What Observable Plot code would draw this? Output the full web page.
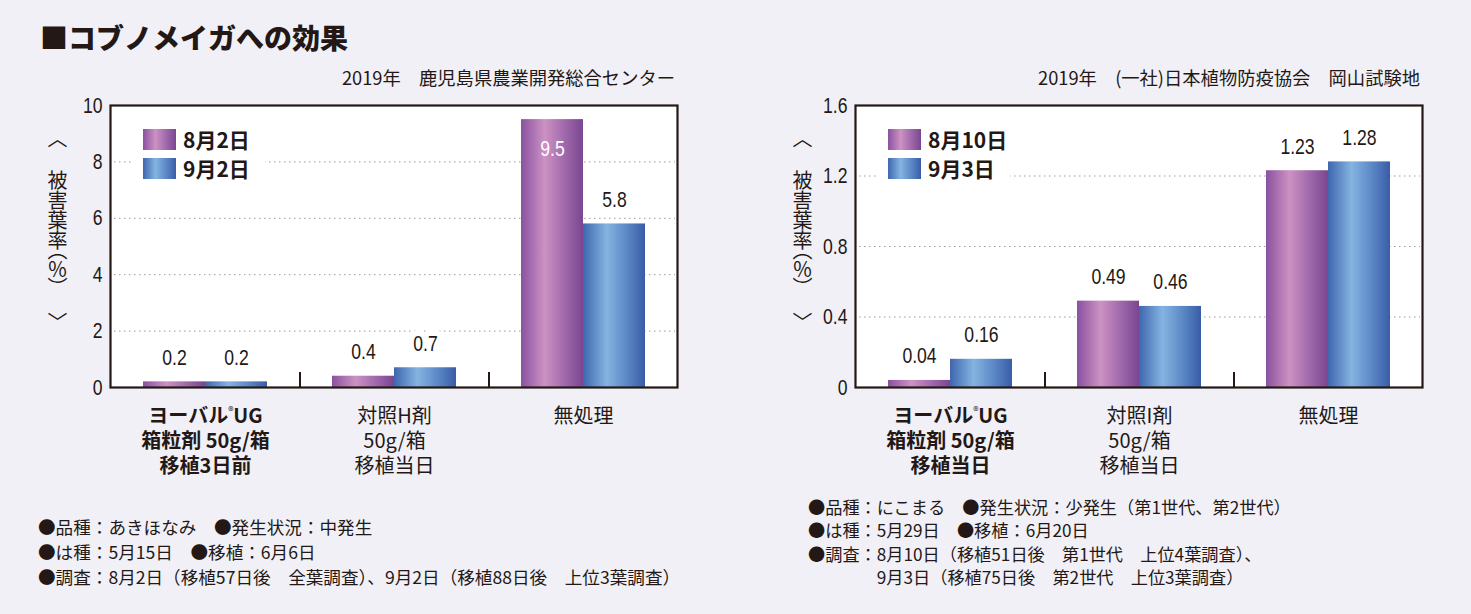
<!DOCTYPE html>
<html><head><meta charset="utf-8">
<script src="https://cdn.jsdelivr.net/npm/d3@7"></script>
<script src="https://cdn.jsdelivr.net/npm/@observablehq/plot@0.6"></script>
<style>
html,body{margin:0;padding:0;background:#f1f0f7;}
#root{position:relative;width:1471px;height:614px;background:#f1f0f7;font-family:"Noto Sans CJK JP",sans-serif;color:#231815;overflow:hidden;}
.abs{position:absolute;white-space:pre;}
.title{left:40px;top:23px;font-size:28px;line-height:28px;font-weight:900;}
.sub{top:66px;font-size:18.3px;line-height:22px;text-align:right;}
.legend{position:absolute;background:#fff;padding:0;}
.lg-row{position:absolute;display:flex;align-items:center;font-size:21px;font-weight:700;line-height:21px;white-space:nowrap;}
.sw{width:33px;height:21px;margin-right:7px;}
.ylab{position:absolute;writing-mode:vertical-rl;font-size:20px;line-height:24px;white-space:nowrap;}
.ylab .v{font-feature-settings:"vpal";}
.ylab .t{margin-inline:22px 0;}
.ylab .e{margin-inline:0 24px;}
.plot{position:absolute;top:0;}
</style></head><body><div id="root"></div>
<script>
// ---------------- data ----------------
const titleText = "■コブノメイガへの効果";

const leftSource = "2019年　鹿児島県農業開発総合センター";
const leftCategories = ["ヨーバル®UG\n箱粒剤 50g/箱\n移植3日前", "対照H剤\n50g/箱\n移植当日", "無処理"];
const leftSeries = ["8月2日", "9月2日"];
const leftValues1 = [0.2, 0.4, 9.5];
const leftValues2 = [0.2, 0.7, 5.8];
const leftYTicks = [0, 2, 4, 6, 8, 10];
const leftNotes = [
  "●品種：あきほなみ　●発生状況：中発生",
  "●は種：5月15日　●移植：6月6日",
  "●調査：8月2日（移植57日後　全葉調査）、9月2日（移植88日後　上位3葉調査）"
];

const rightSource = "2019年　(一社)日本植物防疫協会　岡山試験地";
const rightCategories = ["ヨーバル®UG\n箱粒剤 50g/箱\n移植当日", "対照I剤\n50g/箱\n移植当日", "無処理"];
const rightSeries = ["8月10日", "9月3日"];
const rightValues1 = [0.04, 0.49, 1.23];
const rightValues2 = [0.16, 0.46, 1.28];
const rightYTicks = [0, 0.4, 0.8, 1.2, 1.6];
const rightNotes = [
  "●品種：にこまる　●発生状況：少発生（第1世代、第2世代）",
  "●は種：5月29日　●移植：6月20日",
  "●調査：8月10日（移植51日後　第1世代　上位4葉調査）、",
  "　　　　9月3日（移植75日後　第2世代　上位3葉調査）"
];

const yLabelMain = "被害葉率";
const yLabelUnit = "（％）";

// ---------------- style ----------------
const INK = "#231815";
const CJK = "'Noto Sans CJK JP', sans-serif";
const NUM = "'Liberation Sans Narrow', 'Arial Narrow', 'Liberation Sans', sans-serif";
const purpleStops = [[0, "#8a51a0"], [0.38, "#cc92c3"], [0.72, "#9e67aa"], [1, "#7a4690"]];
const blueStops = [[0, "#3f66ae"], [0.38, "#84b4e1"], [0.72, "#5a86c4"], [1, "#395da7"]];
const cssGrad = s => `linear-gradient(to right, ${s.map(([o, c]) => `${c} ${o * 100}%`).join(", ")})`;

const W = 700, H = 480, ML = 110, MR = 23, MT = 105, MB = 93;
const PI = 0.344, PO = 0.172;

const root = document.getElementById("root");

function gradDefs(id) {
  return () => {
    const defs = d3.create("svg:defs");
    const mk = (name, stops) => {
      const g = defs.append("linearGradient").attr("id", name)
        .attr("x1", "0").attr("x2", "1").attr("y1", "0").attr("y2", "0");
      stops.forEach(([o, c]) => g.append("stop").attr("offset", o).attr("stop-color", c));
    };
    mk(id + "-p", purpleStops);
    mk(id + "-b", blueStops);
    return defs.node();
  };
}

function makeChart(id, cats, v1, v2, yTicks) {
  const yMax = yTicks[yTicks.length - 1];
  const innerW = W - ML - MR;
  const step = innerW / (cats.length - PI + 2 * PO);
  const bw = step * (1 - PI);
  const rows1 = cats.map((c, i) => ({cat: c, v: v1[i]}));
  const rows2 = cats.map((c, i) => ({cat: c, v: v2[i]}));
  const grid = yTicks.filter(t => t > 0 && t < yMax);
  const outside = d => d.v <= yMax * 0.9;
  const inside = d => d.v > yMax * 0.9;
  const labelOut = (rows, dx) => Plot.text(rows, {
    filter: outside, x: "cat", y: "v", text: d => String(d.v), dx,
    lineAnchor: "bottom", dy: -17, fontSize: 22, fontFamily: NUM, fill: INK,
    stroke: "white", strokeWidth: 12, strokeLinejoin: "round", paintOrder: "stroke"
  });
  const labelIn = (rows, dx) => Plot.text(rows, {
    filter: inside, x: "cat", y: "v", text: d => String(d.v), dx,
    lineAnchor: "top", dy: 21, fontSize: 22, fontFamily: NUM, fill: "white"
  });
  return Plot.plot({
    width: W, height: H, marginLeft: ML, marginRight: MR, marginTop: MT, marginBottom: MB,
    style: {background: "transparent", color: INK, overflow: "visible"},
    x: {type: "band", domain: cats, paddingInner: PI, paddingOuter: PO, align: 0.5, axis: null},
    y: {domain: [0, yMax], axis: null},
    marks: [
      gradDefs(id),
      Plot.frame({fill: "white", stroke: "none"}),
      Plot.ruleY(grid, {stroke: "#9a9a9a", strokeDasharray: "1.5,3.5", strokeWidth: 1, insetLeft: 4, insetRight: 2}),
      Plot.barY(rows1, {x: "cat", y: "v", fill: `url(#${id}-p)`, insetLeft: 0, insetRight: bw / 2}),
      Plot.barY(rows2, {x: "cat", y: "v", fill: `url(#${id}-b)`, insetLeft: bw / 2, insetRight: 0}),
      Plot.ruleX(cats.slice(1), {dx: -step / 2, insetTop: (H - MT - MB) - 15, stroke: INK, strokeWidth: 2}),
      labelOut(rows1, -bw / 4), labelOut(rows2, bw / 4),
      labelIn(rows1, -bw / 4), labelIn(rows2, bw / 4),
      Plot.axisY(yTicks, {label: null, tickSize: 0, tickPadding: 8, fontSize: 22, fontFamily: NUM, tickFormat: d => String(d), fill: INK}),
      Plot.text(cats.slice(0, 1), {x: d => d, text: d => d, frameAnchor: "bottom", lineAnchor: "top", dy: 18,
        fontSize: 20, fontWeight: "bold", lineHeight: 1.25, fontFamily: CJK, fill: INK}),
      Plot.text(cats.slice(1), {x: d => d, text: d => d, frameAnchor: "bottom", lineAnchor: "top", dy: 18,
        fontSize: 20, fontWeight: "normal", lineHeight: 1.25, fontFamily: CJK, fill: INK}),
      Plot.frame({stroke: INK, strokeWidth: 2.2})
    ]
  });
}

function superscriptR(svg) {
  svg.querySelectorAll("tspan, text").forEach(t => {
    if (t.childElementCount === 0 && t.textContent.includes("®")) {
      const [a, b] = t.textContent.split("®");
      t.textContent = a;
      const s = document.createElementNS("http://www.w3.org/2000/svg", "tspan");
      s.textContent = "®";
      s.setAttribute("font-size", "0.55em");
      s.setAttribute("baseline-shift", "super");
      s.setAttribute("font-weight", "normal");
      t.appendChild(s);
      t.appendChild(document.createTextNode(b));
    }
  });
}

// condense numeric labels (reference uses a condensed face)
function condenseNumbers(svg, factor) {
  svg.querySelectorAll("text").forEach(t => {
    if (t.childElementCount === 0 && /^[\d.]+$/.test(t.textContent)) {
      const w = t.getComputedTextLength();
      t.setAttribute("textLength", (w * factor).toFixed(2));
      t.setAttribute("lengthAdjust", "spacingAndGlyphs");
    }
  });
}

function addDiv(cls, style, text) {
  const d = document.createElement("div");
  d.className = cls;
  Object.assign(d.style, style);
  if (text != null) d.textContent = text;
  root.appendChild(d);
  return d;
}

// title
addDiv("abs title", {}, titleText);

// charts
const panels = [
  {id: "gl", left: 0, cats: leftCategories, v1: leftValues1, v2: leftValues2, ticks: leftYTicks,
   series: leftSeries, source: leftSource, notes: leftNotes, notesLeft: 38, notesTop: 514, notesLH: 25, notesFS: 17.6},
  {id: "gr", left: 745, cats: rightCategories, v1: rightValues1, v2: rightValues2, ticks: rightYTicks,
   series: rightSeries, source: rightSource, notes: rightNotes, notesLeft: 808, notesTop: 495, notesLH: 23.4, notesFS: 17.2}
];

panels.forEach(p => {
  const svg = makeChart(p.id, p.cats, p.v1, p.v2, p.ticks);
  svg.classList.add("plot");
  svg.style.left = p.left + "px";
  superscriptR(svg);
  root.appendChild(svg);
  condenseNumbers(svg, 0.8);

  const frameL = p.left + ML, frameR = p.left + W - MR;
  // source line (right aligned to frame)
  addDiv("abs sub", {left: "0px", width: (frameR - 2) + "px"}, p.source);

  // legend
  const lg = addDiv("legend", {left: (frameL + 23) + "px", top: "120px", width: "132px", height: "66px"});
  p.series.forEach((s, i) => {
    const row = document.createElement("div");
    row.className = "lg-row";
    row.style.left = "10px";
    row.style.top = (9 + i * 29) + "px";
    const sw = document.createElement("div");
    sw.className = "sw";
    sw.style.background = cssGrad(i === 0 ? purpleStops : blueStops);
    const tx = document.createElement("span");
    tx.textContent = s;
    row.appendChild(sw); row.appendChild(tx);
    lg.appendChild(row);
  });

  // y label (vertical)
  const yl = addDiv("ylab", {left: (p.left + 45) + "px", top: "138px"});
  const a = document.createElement("span"); a.className = "v"; a.textContent = "〈";
  const t = document.createElement("span"); t.className = "t"; t.textContent = yLabelMain;
  const u = document.createElement("span"); u.className = "v e"; u.textContent = yLabelUnit;
  const b = document.createElement("span"); b.className = "v"; b.textContent = "〉";
  yl.appendChild(a); yl.appendChild(t); yl.appendChild(u); yl.appendChild(b);

  // notes
  const n = addDiv("abs", {left: p.notesLeft + "px", top: p.notesTop + "px", lineHeight: p.notesLH + "px", fontSize: p.notesFS + "px"});
  n.textContent = p.notes.join("\n");
});
</script></body></html>
